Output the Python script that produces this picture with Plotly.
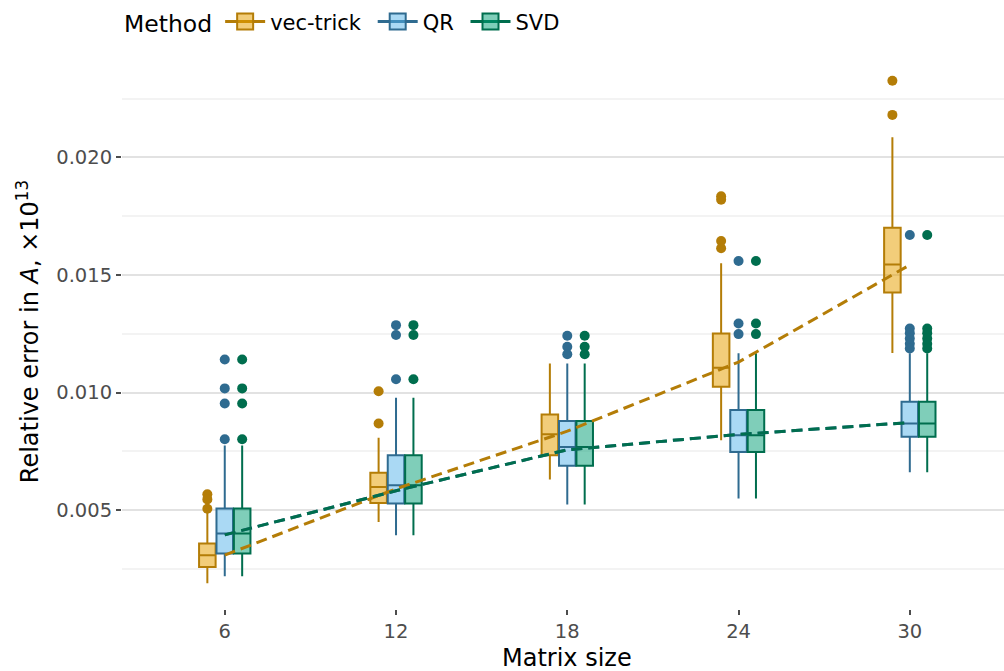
import plotly.graph_objects as go

# ---------------- data ----------------
sizes = [6, 12, 18, 24, 30]
methods = ["vec-trick", "QR", "SVD"]

# box statistics per method (one value per matrix size)
q1 = {
    "vec-trick": [0.00259, 0.00531, 0.00734, 0.01025, 0.01426],
    "QR":        [0.00316, 0.00529, 0.00689, 0.00748, 0.00812],
    "SVD":       [0.00316, 0.00529, 0.00689, 0.00748, 0.00812],
}
median = {
    "vec-trick": [0.00309, 0.00599, 0.00823, 0.01106, 0.01545],
    "QR":        [0.00401, 0.00606, 0.00769, 0.00819, 0.00869],
    "SVD":       [0.00401, 0.00606, 0.00769, 0.00819, 0.00869],
}
q3 = {
    "vec-trick": [0.00358, 0.00659, 0.00907, 0.01252, 0.01701],
    "QR":        [0.00507, 0.00734, 0.00879, 0.00926, 0.00961],
    "SVD":       [0.00507, 0.00734, 0.00879, 0.00926, 0.00961],
}
lower_whisker = {
    "vec-trick": [0.00189, 0.00450, 0.00631, 0.00798, 0.01169],
    "QR":        [0.00219, 0.00394, 0.00524, 0.00550, 0.00662],
    "SVD":       [0.00219, 0.00394, 0.00524, 0.00550, 0.00662],
}
upper_whisker = {
    "vec-trick": [0.00490, 0.00808, 0.01124, 0.01550, 0.02086],
    "QR":        [0.00775, 0.00978, 0.01124, 0.01167, 0.01167],
    "SVD":       [0.00775, 0.00978, 0.01124, 0.01167, 0.01167],
}
outliers = {
    "vec-trick": [[0.00568, 0.00546, 0.00506],
                  [0.01006, 0.00869],
                  [],
                  [0.01835, 0.01820, 0.01645, 0.01614],
                  [0.02326, 0.02181]],
    "QR":        [[0.01141, 0.01018, 0.00954, 0.00802],
                  [0.01287, 0.01245, 0.01057],
                  [0.01242, 0.01195, 0.01163],
                  [0.01560, 0.01294, 0.01249],
                  [0.01670, 0.01273, 0.01253, 0.01230, 0.01208, 0.01188]],
    "SVD":       [[0.01141, 0.01018, 0.00954, 0.00802],
                  [0.01287, 0.01245, 0.01057],
                  [0.01242, 0.01195, 0.01163],
                  [0.01560, 0.01294, 0.01249],
                  [0.01670, 0.01273, 0.01253, 0.01230, 0.01208, 0.01188]],
}
mean = {
    "vec-trick": [0.00309, 0.00591, 0.00836, 0.01130, 0.01543],
    "QR":        [0.00395, 0.00583, 0.00757, 0.00822, 0.00873],
    "SVD":       [0.00395, 0.00583, 0.00757, 0.00822, 0.00873],
}

# ---------------- style ----------------
line_col = {"vec-trick": "#B47D07", "QR": "#2F6B90", "SVD": "#006E4E"}
fill_col = {"vec-trick": "rgba(230,159,0,0.52)",
            "QR": "rgba(86,180,233,0.5)",
            "SVD": "rgba(0,158,115,0.5)"}
dodge = {"vec-trick": -0.61, "QR": 0.0, "SVD": 0.61}
box_w = 0.58
FONT = "DejaVu Sans"
PAD = "\u00a0"  # extra spacing after legend labels

fig = go.Figure()

# mean lines (dashed)
for m in ["QR", "vec-trick", "SVD"]:
    fig.add_trace(go.Scatter(
        x=sizes, y=mean[m], mode="lines",
        line=dict(color=line_col[m], width=3, dash="11px,6px"),
        showlegend=False, hoverinfo="skip"))

# boxes
for m in methods:
    pos = [s + dodge[m] for s in sizes]
    fig.add_trace(go.Box(
        name=m, x=pos,
        q1=q1[m], median=median[m], q3=q3[m],
        lowerfence=lower_whisker[m], upperfence=upper_whisker[m],
        width=box_w, whiskerwidth=0,
        fillcolor=fill_col[m], line=dict(color=line_col[m], width=2),
        boxpoints=False, showlegend=False, legendgroup=m))

# outliers
for m in methods:
    xs, ys = [], []
    for s, pts in zip(sizes, outliers[m]):
        for v in pts:
            xs.append(s + dodge[m])
            ys.append(v)
    fig.add_trace(go.Scatter(
        x=xs, y=ys, mode="markers",
        marker=dict(color=line_col[m], size=10, line=dict(width=0)),
        showlegend=False, hoverinfo="skip", legendgroup=m))

# legend keys (box-like glyphs)
for m in methods:
    fig.add_trace(go.Scatter(
        name=m + PAD, x=[None], y=[None], mode="lines+markers",
        line=dict(color=line_col[m], width=3),
        marker=dict(symbol="square", size=16, color=fill_col[m],
                    line=dict(color=line_col[m], width=2)),
        showlegend=True, legendgroup=m, hoverinfo="skip"))

fig.update_layout(
    width=1004, height=671,
    margin=dict(l=122, r=0, t=54, b=62),
    paper_bgcolor="white", plot_bgcolor="white",
    font=dict(family=FONT, color="#000000"),
    legend=dict(
        orientation="h", x=0.0, xanchor="left", y=1.058, yanchor="middle",
        title=dict(text="Method", side="left", font=dict(size=23.5, color="#000")),
        font=dict(size=21, color="#000"),
        traceorder="normal", itemsizing="trace", itemwidth=40,
    ),
    xaxis=dict(
        range=[2.4, 33.3], tickvals=sizes, ticktext=[str(s) for s in sizes],
        showgrid=False, zeroline=False, showline=False, automargin=False,
        ticks="outside", ticklen=5, tickwidth=1.5, tickcolor="#4D4D4D",
        tickfont=dict(size=19.5, color="#4D4D4D"),
    ),
    yaxis=dict(
        range=[0.0008, 0.0244], tick0=0, dtick=0.005, tickformat=".3f",
        showgrid=True, gridcolor="#E2E2E2", gridwidth=2,
        minor=dict(dtick=0.0025, tick0=0, showgrid=True, gridcolor="#F3F3F3", gridwidth=1.5),
        zeroline=False, showline=False, automargin=False,
        ticks="outside", ticklen=5, tickwidth=1.5, tickcolor="#4D4D4D",
        tickfont=dict(size=19.5, color="#4D4D4D"),
        title=dict(text="Relative error in <i>A</i>, ×10<sup>13</sup>",
                   font=dict(size=24), standoff=10),
    ),
    annotations=[dict(
        text="Matrix size", xref="paper", yref="paper",
        x=0.5045, y=-0.0875, xanchor="center", yanchor="middle",
        showarrow=False, font=dict(size=24, color="#000"))],
)

fig.write_html("out.html")
